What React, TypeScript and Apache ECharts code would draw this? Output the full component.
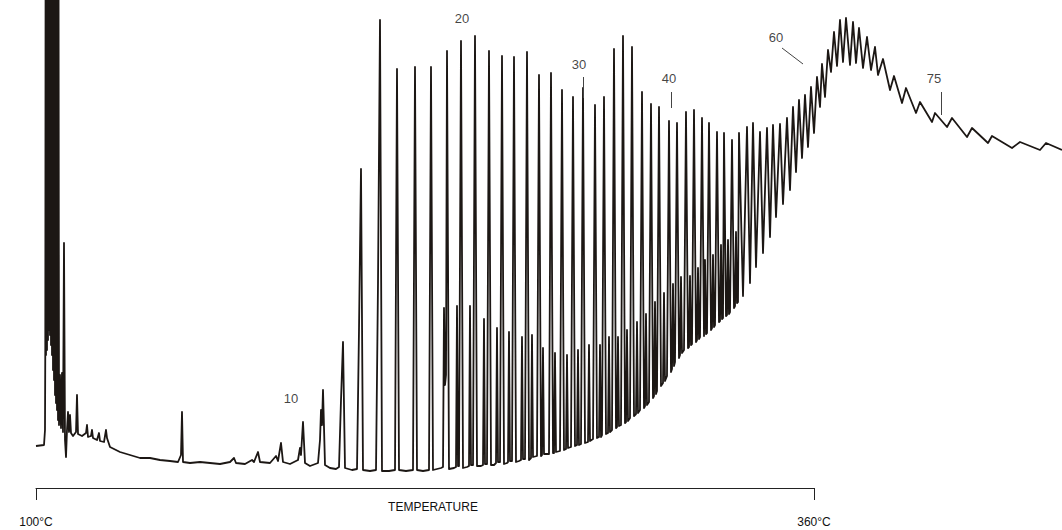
import React, { useEffect, useRef } from "react";
import * as echarts from "echarts";

// Detector trace, [scan, response] pairs
const solventTrace: number[][] = [
  [0, 29], [8, 30], [9, 45], [9.3, 130], [9.6, 535], [10, 120], [10.5, 535], [11, 125], [11.5, 535], [12, 135],
  [12.5, 535], [13, 145], [13.5, 535], [14, 140], [14.5, 535], [15, 130], [15.5, 535], [16, 120], [16.5, 535],
  [17, 105], [17.5, 535], [18, 95], [18.5, 535], [19, 80], [19.5, 535], [20, 72], [20.5, 535], [21, 65],
  [21.5, 535], [22, 55], [22.5, 535], [23, 50], [24, 100], [25, 47], [26, 102],
  [27, 43], [28, 232], [29, 35], [30, 18], [31, 45], [32, 63], [33, 43], [34, 60], [35, 42], [37, 39],
  [40, 43], [41, 80], [42, 41], [46, 39], [50, 42], [51, 50], [52, 38], [55, 39], [56, 45], [57, 37],
  [61, 35], [63, 42], [64, 34], [68, 33], [70, 45], [71, 37], [74, 28],
];

const lightTrace: number[][] = [
  [84, 23], [94, 20], [104, 17], [114, 17], [124, 15], [134, 14], [142, 13], [145, 20], [146, 63], [147, 13],
  [154, 12], [164, 13], [174, 12], [184, 11], [194, 13], [198, 17], [200, 12], [209, 11], [216, 15], [218, 13],
  [222, 23], [224, 13], [234, 12], [240, 19], [242, 14], [245, 32], [247, 13], [254, 11], [262, 15], [264, 27],
  [265, 20], [267, 53], [269, 12], [274, 9], [282, 12], [284, 35], [285, 65], [286, 50], [287, 85], [289, 10],
  [294, 7], [300, 6], [303, 8], [305, 75], [307, 133], [309, 7], [316, 5], [321, 6], [323, 145], [325, 306],
  [327, 5], [334, 4], [340, 5], [342, 192], [344, 455], [346, 4],
];

const alkaneTrace: number[][] = [
  [353, 4], [359, 5], [361, 406], [363, 5], [370, 4], [377, 5], [379, 408], [381, 5], [387, 4], [393, 5],
  [395, 408], [397, 5], [405, 7], [407, 8], [408, 167], [409, 90], [410, 100], [411, 424], [413, 6],
  [418, 7], [420, 8], [421, 169], [422, 9], [423, 9], [425, 434], [427, 7],
  [431, 8], [433, 9], [434, 169], [435, 10], [437, 10], [439, 439], [441, 9],
  [445, 9], [447, 10], [448, 156], [449, 11], [451, 11], [453, 424], [455, 10],
  [458, 10], [460, 12], [461, 147], [462, 13], [464, 13], [466, 419], [468, 11],
  [471, 12], [472, 13], [473, 143], [474, 14], [476, 14], [478, 418], [480, 13],
  [483, 14], [485, 15], [486, 138], [487, 16], [489, 16], [491, 423], [493, 15],
  [494, 16], [495, 17], [496, 140], [497, 18], [501, 19], [503, 400], [505, 19],
  [506, 20], [507, 127], [508, 21], [513, 21], [515, 402], [517, 22],
  [518, 22], [519, 122], [520, 23], [524, 24], [526, 385], [528, 25],
  [530, 26], [531, 120], [532, 27], [535, 28], [537, 378], [539, 29],
  [541, 30], [542, 125], [543, 30], [545, 31], [547, 387], [549, 32],
  [552, 33], [553, 130], [554, 34], [557, 36], [559, 370], [561, 37],
  [563, 38], [564, 130], [565, 38], [566, 40], [568, 378], [570, 41],
  [572, 42], [573, 138], [574, 43], [576, 45], [578, 426], [580, 47],
  [581, 48], [582, 138], [583, 49], [585, 50], [587, 439], [589, 52],
  [590, 53], [591, 145], [592, 54], [594, 57], [596, 428], [598, 59],
  [600, 61], [601, 153], [602, 62], [604, 65], [606, 383], [608, 67],
  [609, 69], [610, 161], [611, 70], [613, 73], [615, 371], [617, 77],
  [618, 79], [619, 173], [620, 81], [621, 84], [623, 368], [625, 89],
  [627, 92], [628, 182], [629, 94], [631, 99], [633, 354], [635, 103],
  [636, 106], [637, 191], [638, 109], [639, 113], [641, 352], [643, 117],
  [644, 120], [645, 198], [646, 122], [648, 125], [650, 363], [652, 127],
  [653, 128], [654, 199], [655, 130], [656, 131], [658, 365], [660, 133],
  [661, 135], [662, 207], [663, 136], [664, 138], [666, 357], [668, 139],
  [669, 215], [670, 141], [671, 142], [673, 352], [675, 145],
  [676, 147], [677, 220], [678, 148], [679, 150], [681, 343], [683, 153],
  [684, 154], [685, 230], [686, 156], [687, 157], [688, 342], [690, 159],
  [691, 160], [692, 235], [693, 161], [694, 163], [696, 335], [698, 167],
  [699, 169], [700, 243], [701, 172], [702, 173], [703, 342],
];

const humpTrace: number[][] = [
  [707, 179], [711, 348], [714, 192], [717, 352], [720, 208], [724, 343], [727, 222], [731, 347], [734, 238], [737, 350],
  [740, 258], [744, 351], [747, 271], [751, 357], [754, 285], [757, 368], [760, 303], [763, 375], [766, 317], [769, 380],
  [772, 328], [775, 388], [778, 342], [781, 398], [784, 368], [786, 411], [789, 378], [792, 425], [795, 403], [798, 443],
  [801, 409], [804, 455], [807, 413], [810, 457], [814, 410], [817, 453], [820, 412], [823, 447], [827, 407], [831, 438],
  [835, 405], [839, 428], [842, 400], [847, 416], [854, 385], [858, 399], [866, 372], [870, 387], [880, 362], [884, 373],
  [896, 353], [899, 362], [911, 348], [916, 357], [931, 338], [936, 347], [952, 332], [956, 339], [976, 327], [984, 333],
  [1004, 325], [1010, 332], [1026, 325],
];

// Carbon-number annotations: label, [scan, response] of the label
const carbonLabels = ["10", "20", "30", "40", "60", "75"];
const carbonLabelPos: number[][] = [[255, 77], [426, 457], [543, 411], [633, 397], [740, 438], [898, 397]];
// Leader lines: from, to
const leaderLines: number[][][] = [
  [[547, 398], [547, 377]],
  [[635, 383], [635, 367]],
  [[746, 427], [767, 411]],
  [[905, 383], [905, 360]],
];

// Oven program
const tempStart = 100;
const tempEnd = 360;
const tempTicks = [100, 360];

export default function App() {
  const ref = useRef<HTMLDivElement>(null);
  useEffect(() => {
    if (!ref.current) return;
    const chart = echarts.init(ref.current, null, { renderer: "svg" });
    const trace = [...solventTrace, ...lightTrace, ...alkaneTrace, ...humpTrace];
    const font = "Arial, 'Liberation Sans', Helvetica, sans-serif";
    chart.setOption({
      animation: false,
      backgroundColor: "#ffffff",
      grid: [
        { left: 36, right: 0, top: 0, height: 475 },
        { left: 36, width: 778, top: 487, height: 1 },
      ],
      xAxis: [
        { type: "value", gridIndex: 0, min: 0, max: 1026, show: false },
        {
          type: "value",
          gridIndex: 1,
          min: tempStart,
          max: tempEnd,
          position: "bottom",
          axisLine: { show: true, lineStyle: { color: "#222", width: 1 } },
          axisTick: { show: true, length: 12, customValues: tempTicks, lineStyle: { color: "#222" } },
          axisLabel: {
            show: true,
            customValues: tempTicks,
            formatter: "{value}°C",
            margin: 28,
            fontSize: 12,
            color: "#111",
            fontFamily: font,
          },
          splitLine: { show: false },
          name: "TEMPERATURE",
          nameLocation: "middle",
          nameGap: 13,
          nameMoveOverlap: false,
          nameTextStyle: { fontSize: 12, color: "#111", fontFamily: font, padding: [0, 0, 0, 16] },
        },
      ],
      yAxis: [
        { type: "value", gridIndex: 0, min: 0, max: 475, show: false },
        { type: "value", gridIndex: 1, min: 0, max: 1, show: false },
      ],
      series: [
        {
          type: "line",
          name: "FID",
          xAxisIndex: 0,
          yAxisIndex: 0,
          data: trace,
          showSymbol: false,
          symbol: "none",
          clip: true,
          lineStyle: { color: "#1c1714", width: 1.8, join: "round" },
          silent: true,
        },
        {
          type: "scatter",
          name: "labels",
          xAxisIndex: 0,
          yAxisIndex: 0,
          symbolSize: 1,
          itemStyle: { color: "rgba(0,0,0,0)" },
          silent: true,
          data: carbonLabels.map((c, i) => ({ name: c, value: carbonLabelPos[i] })),
          label: {
            show: true,
            position: "inside",
            formatter: "{b}",
            fontSize: 13,
            color: "#111",
            fontFamily: font,
          },
          markLine: {
            silent: true,
            symbol: "none",
            label: { show: false },
            lineStyle: { color: "#444", width: 1, type: "solid" },
            data: leaderLines.map((l) => [{ coord: l[0] }, { coord: l[1] }]),
          },
        },
      ],
    });
    return () => chart.dispose();
  }, []);
  return (
    <div
      ref={ref}
      style={{ position: "fixed", left: 0, top: 0, width: 1062, height: 530, background: "#fff" }}
    />
  );
}
